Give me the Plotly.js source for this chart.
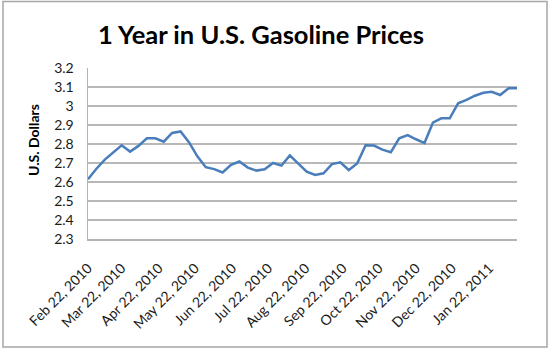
<!DOCTYPE html>
<html>
<head>
<meta charset="utf-8">
<script src="https://cdn.plot.ly/plotly-3.0.1.min.js"></script>
<style>
html,body{margin:0;padding:0;background:#fff;}
#chart{width:550px;height:351px;}
</style>
</head>
<body>
<div id="chart"></div>
<script>
// Weekly dates (Mondays)
const weekDates = [
  "2010-02-22","2010-03-01","2010-03-08","2010-03-15","2010-03-22","2010-03-29",
  "2010-04-05","2010-04-12","2010-04-19","2010-04-26",
  "2010-05-03","2010-05-10","2010-05-17","2010-05-24","2010-05-31",
  "2010-06-07","2010-06-14","2010-06-21","2010-06-28",
  "2010-07-05","2010-07-12","2010-07-19","2010-07-26",
  "2010-08-02","2010-08-09","2010-08-16","2010-08-23","2010-08-30",
  "2010-09-06","2010-09-13","2010-09-20","2010-09-27",
  "2010-10-04","2010-10-11","2010-10-18","2010-10-25",
  "2010-11-01","2010-11-08","2010-11-15","2010-11-22","2010-11-29",
  "2010-12-06","2010-12-13","2010-12-20","2010-12-27",
  "2011-01-03","2011-01-10","2011-01-17","2011-01-24","2011-01-31",
  "2011-02-07","2011-02-14"
];
// Price in U.S. dollars per gallon
const prices = [
  2.615,2.670,2.718,2.758,2.793,2.760,
  2.790,2.830,2.830,2.812,
  2.858,2.866,2.810,2.735,2.678,
  2.668,2.650,2.690,2.708,
  2.676,2.660,2.667,2.700,
  2.686,2.740,2.697,2.654,2.637,
  2.646,2.694,2.704,2.663,
  2.698,2.793,2.792,2.770,
  2.757,2.830,2.847,2.825,2.805,
  2.912,2.935,2.935,3.014,
  3.032,3.054,3.070,3.075,3.058,
  3.093,3.093
];
// Axis tick labels
const tickDates = ["2010-02-22","2010-03-22","2010-04-22","2010-05-22","2010-06-22","2010-07-22",
  "2010-08-22","2010-09-22","2010-10-22","2010-11-22","2010-12-22","2011-01-22"];
const tickLabels = ["Feb 22, 2010","Mar 22, 2010","Apr 22, 2010","May 22, 2010","Jun 22, 2010","Jul 22, 2010",
  "Aug 22, 2010","Sep 22, 2010","Oct 22, 2010","Nov 22, 2010","Dec 22, 2010","Jan 22, 2011"];
const yTicks = [2.3,2.4,2.5,2.6,2.7,2.8,2.9,3,3.1,3.2];

const L=88, R=517, T=68, B=239;
const pw=R-L, ph=B-T;

const trace = {
  x: weekDates, y: prices, type: 'scatter', mode: 'lines',
  line: {color: '#4a7ebb', width: 2.5}, hoverinfo: 'x+y'
};

const layout = {
  width: 550, height: 351,
  margin: {l: L, r: 550-R, t: T, b: 351-B, pad: 0},
  paper_bgcolor: '#ffffff', plot_bgcolor: '#ffffff',
  showlegend: false,
  font: {family: 'Lato, "Open Sans", sans-serif', color: '#1a1a1a'},
  title: {
    text: '1 Year in U.S. Gasoline Prices',
    font: {family: 'Lato, sans-serif', size: 25.5, color: '#000', weight: 'bold'},
    x: 261/550, xref: 'container', xanchor: 'center',
    y: 1-35/351, yref: 'container', yanchor: 'middle'
  },
  xaxis: {
    type: 'date',
    range: ['2010-02-22', '2011-02-14'],
    tickmode: 'array', tickvals: tickDates, ticktext: tickLabels,
    tickangle: -45,
    tickfont: {size: 14, color: '#1a1a1a'},
    showgrid: false, zeroline: false,
    showline: true, linecolor: '#b3b3b3', linewidth: 1.5,
    ticks: '', ticklabelstandoff: 14, fixedrange: true
  },
  yaxis: {
    range: [2.3, 3.2],
    tickmode: 'array', tickvals: yTicks,
    ticktext: yTicks.map(v => String(v)),
    tickfont: {size: 14, color: '#1a1a1a'},
    showgrid: true, gridcolor: '#b8b8b8', gridwidth: 1.2,
    zeroline: false,
    showline: true, linecolor: '#b3b3b3', linewidth: 1.5,
    ticks: '', ticklabelstandoff: 10, fixedrange: true
  },
  annotations: [{
    text: '<b>U.S. Dollars</b>',
    xref: 'paper', yref: 'paper',
    x: (33-L)/pw, y: (B-140)/ph,
    xanchor: 'center', yanchor: 'middle',
    textangle: -90, showarrow: false,
    font: {family: 'Lato, sans-serif', size: 14, color: '#000'}
  }],
  shapes: [{
    type: 'rect', xref: 'paper', yref: 'paper',
    x0: (3-L)/pw, x1: (547-L)/pw,
    y0: (B-347)/ph, y1: (B-1.5)/ph,
    line: {color: '#a6a6a6', width: 1.5}, fillcolor: 'rgba(0,0,0,0)'
  }]
};

Plotly.newPlot('chart', [trace], layout, {staticPlot: true, displayModeBar: false});
</script>
</body>
</html>
